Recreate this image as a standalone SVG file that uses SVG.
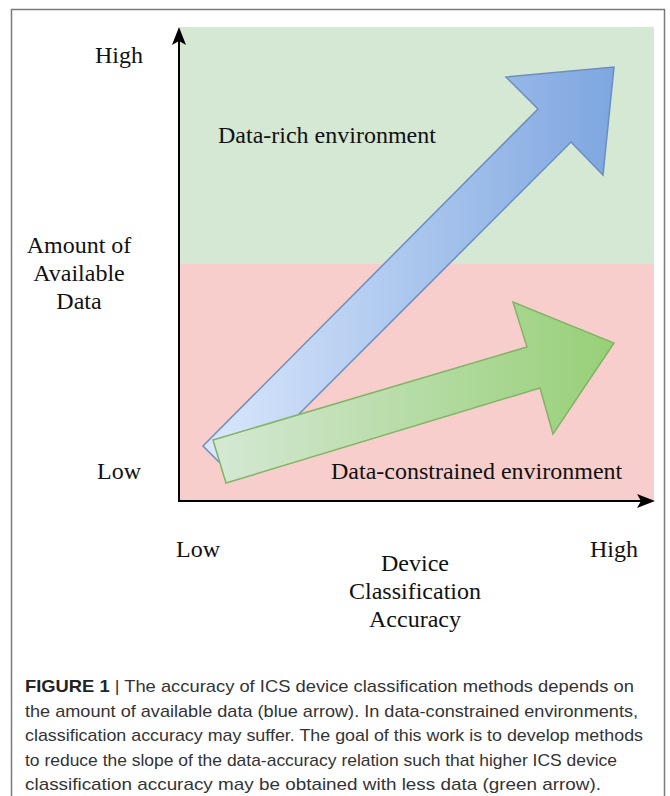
<svg xmlns="http://www.w3.org/2000/svg" width="670" height="796" viewBox="0 0 670 796">
  <defs>
    <linearGradient id="gBlue" x1="0" y1="0" x2="1" y2="0">
      <stop offset="0" stop-color="#dae8fc"/>
      <stop offset="1" stop-color="#7ea6e0"/>
    </linearGradient>
    <linearGradient id="gGreen" x1="0" y1="0" x2="1" y2="0">
      <stop offset="0" stop-color="#d5e8d4"/>
      <stop offset="1" stop-color="#97d077"/>
    </linearGradient>
    <style>
      .lbl { font-family: "Liberation Serif", "Times New Roman", serif; font-size: 24px; fill: #111; }
      .cap { font-family: "Liberation Sans", Arial, sans-serif; font-size: 17px; fill: #333; }
      .axis { stroke: #000; stroke-width: 2; fill: none; }
    </style>
  </defs>
  <rect width="670" height="796" fill="#ffffff"/>
  <rect x="11.5" y="9.5" width="653" height="800" fill="none" stroke="#7a7a7a" stroke-width="1.5"/>

  <g id="regions">
    <rect id="data-rich-region" x="180" y="27" width="474" height="237" fill="#d5e8d4"/>
    <rect id="data-constrained-region" x="180" y="264" width="474" height="237" fill="#f8cecc"/>
  </g>

  <g id="axes">
    <line class="axis" x1="179" y1="502" x2="179" y2="40"/>
    <polygon points="179,27 186,45 179,41 172,45" fill="#000"/>
    <line class="axis" x1="178" y1="501" x2="642" y2="501"/>
    <polygon points="655,501 637,508 641,501 637,494" fill="#000"/>
  </g>

  <g id="blue-arrow">
    <polygon points="203,446 538,109 506,77 614,67 603,175 571,142 235,478" fill="url(#gBlue)" stroke="#6c8ebf" stroke-width="1.5" stroke-linejoin="miter"/>
  </g>
  <g id="green-arrow">
    <polygon points="213,440 527,347 513,302 614,343 553,434 540,388 226,483" fill="url(#gGreen)" stroke="#82b366" stroke-width="1.5" stroke-linejoin="miter"/>
  </g>

  <g id="labels">
    <text class="lbl" x="95" y="63">High</text>
    <text class="lbl" x="218" y="143">Data-rich environment</text>
    <text class="lbl" x="79" y="253" text-anchor="middle">Amount of</text>
    <text class="lbl" x="79" y="281" text-anchor="middle">Available</text>
    <text class="lbl" x="79" y="309" text-anchor="middle">Data</text>
    <text class="lbl" x="97" y="479">Low</text>
    <text class="lbl" x="331" y="479">Data-constrained environment</text>
    <text class="lbl" x="176" y="557">Low</text>
    <text class="lbl" x="590" y="557">High</text>
    <text class="lbl" x="415" y="571" text-anchor="middle">Device</text>
    <text class="lbl" x="415" y="599" text-anchor="middle">Classification</text>
    <text class="lbl" x="415" y="627" text-anchor="middle">Accuracy</text>
  </g>

  <g id="caption">
    <text class="cap" x="25" y="692" textLength="609" lengthAdjust="spacingAndGlyphs"><tspan font-weight="bold" fill="#222">FIGURE 1</tspan> | The accuracy of ICS device classification methods depends on</text>
    <text class="cap" x="25" y="716.5" textLength="613" lengthAdjust="spacingAndGlyphs">the amount of available data (blue arrow). In data-constrained environments,</text>
    <text class="cap" x="25" y="741" textLength="618" lengthAdjust="spacingAndGlyphs">classification accuracy may suffer. The goal of this work is to develop methods</text>
    <text class="cap" x="25" y="765.5" textLength="592" lengthAdjust="spacingAndGlyphs">to reduce the slope of the data-accuracy relation such that higher ICS device</text>
    <text class="cap" x="25" y="790" textLength="576" lengthAdjust="spacingAndGlyphs">classification accuracy may be obtained with less data (green arrow).</text>
  </g>
</svg>
